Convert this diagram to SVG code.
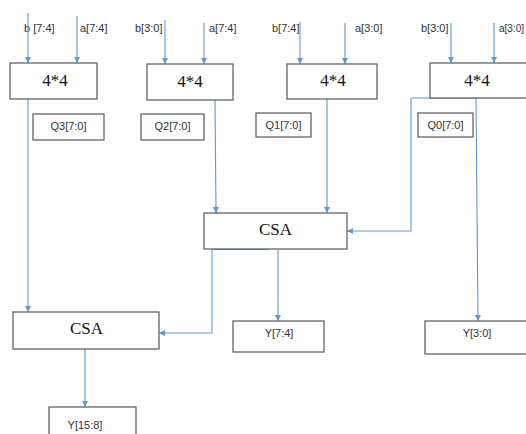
<svg xmlns="http://www.w3.org/2000/svg" width="526" height="434" viewBox="0 0 526 434">
<defs>
<marker id="ah" viewBox="0 0 10 10" refX="10" refY="5" markerWidth="6" markerHeight="6" orient="auto" markerUnits="userSpaceOnUse">
<path d="M0,0 L10,5 L0,10 z" fill="#5B9BD5"/>
</marker>
<style>
.box{fill:#fff;stroke:#595959;stroke-width:1.2}
.big{font-family:"Liberation Serif","Times New Roman",serif;font-size:17px;fill:#111;text-anchor:middle}
.sm{font-family:"Liberation Sans",Arial,sans-serif;font-size:11px;fill:#333}
.c{fill:none;stroke:#5B9BD5;stroke-width:1.1}
.ca{fill:none;stroke:#5B9BD5;stroke-width:1.1;marker-end:url(#ah)}
</style>
</defs>
<rect width="526" height="434" fill="#fff"/>
<g id="inputs">
<text class="sm" x="24" y="32">b [7:4]</text>
<text class="sm" x="80" y="32">a[7:4]</text>
<text class="sm" x="135" y="32">b[3:0]</text>
<text class="sm" x="209" y="32">a[7:4]</text>
<text class="sm" x="272" y="32">b[7:4]</text>
<text class="sm" x="355" y="32">a[3:0]</text>
<text class="sm" x="421" y="32">b[3:0]</text>
<text class="sm" x="499" y="32" style="font-size:10px">a[3:0]</text>
</g>
<g id="connectors">
<line class="ca" x1="28" y1="13" x2="28" y2="63"/>
<line class="ca" x1="77" y1="16" x2="77" y2="63"/>
<line class="ca" x1="165" y1="20" x2="165" y2="64"/>
<line class="ca" x1="204" y1="23" x2="204" y2="64"/>
<line class="ca" x1="300" y1="22" x2="300" y2="64"/>
<line class="ca" x1="345" y1="23" x2="345" y2="64"/>
<line class="ca" x1="451" y1="23" x2="451" y2="63"/>
<line class="ca" x1="494" y1="23" x2="494" y2="63"/>
<line class="ca" x1="28" y1="99" x2="28" y2="312"/>
<line class="ca" x1="215" y1="100" x2="216" y2="213"/>
<line class="ca" x1="327" y1="99" x2="327" y2="213"/>
<polyline class="ca" points="411,98 411,231 347,231"/>
<line class="c" x1="411" y1="98" x2="476" y2="98"/>
<line class="ca" x1="476" y1="98" x2="478" y2="321"/>
<line class="c" x1="212" y1="249.5" x2="269" y2="249.5"/>
<polyline class="ca" points="212,250 212,333 159,333"/>
<line class="ca" x1="278" y1="250" x2="278" y2="321"/>
<line class="ca" x1="85" y1="349" x2="85" y2="407"/>
</g>
<g id="mul3">
<rect class="box" x="10" y="63" width="87" height="36"/>
<text class="big" x="55" y="86">4*4</text>
</g>
<g id="mul2">
<rect class="box" x="147" y="64" width="86" height="36"/>
<text class="big" x="190" y="87">4*4</text>
</g>
<g id="mul1">
<rect class="box" x="287" y="64" width="90" height="35"/>
<text class="big" x="333" y="86">4*4</text>
</g>
<g id="mul0">
<rect class="box" x="430" y="63" width="100" height="35"/>
<text class="big" x="477" y="86">4*4</text>
</g>
<g id="q3">
<rect class="box" x="33" y="114" width="71" height="26"/>
<text class="sm" x="68.5" y="130" text-anchor="middle">Q3[7:0]</text>
</g>
<g id="q2">
<rect class="box" x="141" y="114" width="63" height="26"/>
<text class="sm" x="172.5" y="130" text-anchor="middle">Q2[7:0]</text>
</g>
<g id="q1">
<rect class="box" x="256" y="113" width="55" height="24"/>
<text class="sm" x="283.5" y="129" text-anchor="middle">Q1[7:0]</text>
</g>
<g id="q0">
<rect class="box" x="418" y="113" width="55" height="24"/>
<text class="sm" x="445.5" y="129" text-anchor="middle">Q0[7:0]</text>
</g>
<g id="csa1">
<rect class="box" x="204" y="213" width="143" height="36"/>
<text class="big" x="275.5" y="235">CSA</text>
</g>
<g id="csa2">
<rect class="box" x="13" y="312" width="146" height="37"/>
<text class="big" x="86.5" y="334">CSA</text>
</g>
<g id="y74">
<rect class="box" x="233" y="321" width="91" height="31"/>
<text class="sm" x="279" y="337" text-anchor="middle">Y[7:4]</text>
</g>
<g id="y30">
<rect class="box" x="425" y="321" width="105" height="33"/>
<text class="sm" x="477" y="337" text-anchor="middle">Y[3:0]</text>
</g>
<g id="y158">
<rect class="box" x="49" y="407" width="87" height="40"/>
<text class="sm" x="85" y="429" text-anchor="middle">Y[15:8]</text>
</g>
</svg>
